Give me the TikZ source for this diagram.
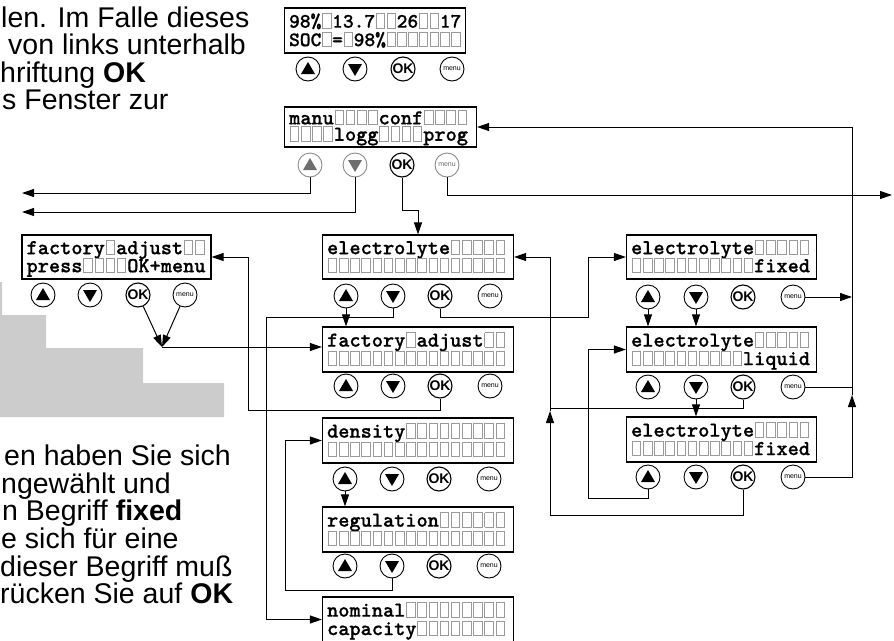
\documentclass[tikz,border=0pt]{standalone}
\usepackage{fontspec}
\setmainfont{Liberation Sans}
\newfontfamily\lcdfont[FakeBold=0.8]{lmmonolt10-bold.otf}
\usetikzlibrary{arrows.meta}
\definecolor{cellgrey}{HTML}{9A9A9A}
\definecolor{bggrey}{HTML}{CCCCCC}
\definecolor{btngrey}{HTML}{6E6E6E}
\definecolor{btnline}{HTML}{8A8A8A}
\newcommand\bx{\makebox[0.525em][c]{\textcolor{cellgrey}{\setlength\fboxrule{1pt}\setlength\fboxsep{0pt}\fbox{\rule{0pt}{13.5pt}\hspace{7.5pt}}}}}
\newcommand\bxs[1]{\foreach\k in {1,...,#1}{\bx}}
\tikzset{
  lcd/.style={draw, line width=1.2pt, inner sep=0pt},
  lcdtext/.style={anchor=base west, inner sep=0pt, text height=13pt, text depth=1.5pt},
  btn/.style={circle, draw, line width=0.9pt, minimum size=24pt, inner sep=0pt},
  bup/.style={btn, path picture={\fill[#1] ([shift={(-7,5)}]path picture bounding box.center) -- ++(14,0) -- ++(-7,-12) -- cycle;}},
  bup/.default=black,
  bdn/.style={btn, path picture={\fill[#1] ([shift={(-7,-5)}]path picture bounding box.center) -- ++(14,0) -- ++(-7,12) -- cycle;}},
  bdn/.default=black,
  bok/.style={btn, line width=1.1pt, font=\fontsize{14}{14}\selectfont\bfseries},
  bmenu/.style={btn, font=\fontsize{7}{7}\selectfont},
  conn/.style={line width=1pt},
  arr/.style={conn, -{Triangle[length=12pt,width=8pt]}},
  para/.style={anchor=base west, inner sep=0pt, font=\fontsize{28.5}{28.5}\selectfont}
}
\newcommand\lcdbox[8]{%
  \node[lcd, minimum width=#4pt, minimum height=#5pt] (#1) at (#2,#3) {};
  \node[lcdtext, font=\lcdfont\fontsize{#6}{#6}\selectfont] (#1a) at ([shift={(5,0.45*#5)}]#1.north west) {#7};
  \node[lcdtext, font=\lcdfont\fontsize{#6}{#6}\selectfont] (#1b) at ([shift={(5,0.86*#5)}]#1.north west) {#8};
}
\newcommand\btns[6]{%
  \node[bup] (#1-u) at (#3,#2) {};
  \node[bdn] (#1-d) at (#4,#2) {};
  \node[bok] (#1-k) at (#5,#2) {OK};
  \node[bmenu] (#1-m) at (#6,#2) {menu};
}
\begin{document}
\begin{tikzpicture}[x=1pt,y=-1pt]
\useasboundingbox (0,0) rectangle (894,640);
\fill[bggrey] (0,282) -- (2,282) -- (2,315) -- (46,315) -- (46,348) -- (143,348) -- (143,383) -- (224,383) -- (224,417) -- (0,417) -- cycle;

% paragraph fragments
\node[para] (t1) at (1,27) {len. Im Falle dieses};
\node[para] (t2) at (8,54.5) {von links unterhalb};
\node[para] (t3) at (0,82) {hriftung \textbf{OK}};
\node[para] (t4) at (2,109.5) {s Fenster zur};
\node[para] (b1) at (4,465) {en haben Sie sich};
\node[para] (b2) at (1,493) {ngewählt und};
\node[para] (b3) at (2,520) {n Begriff \textbf{fixed}};
\node[para] (b4) at (1,548) {e sich für eine};
\node[para] (b5) at (0,576) {dieser Begriff muß};
\node[para] (b6) at (0,603) {rücken Sie auf \textbf{OK}};

% displays
\lcdbox{L0}{375}{30.5}{181}{45}{20.5}{98\%\bx13.7\bx\bx26\bx\bx17}{SOC\bx=\bx98\%\bxs{7}}
\lcdbox{L1}{380.5}{127}{192}{40}{21.3}{manu\bxs{4}conf\bxs{4}}{\bxs{4}logg\bxs{4}prog}
\lcdbox{FL}{116.5}{257}{189}{44}{21.3}{factory\bx adjust\bx\bx}{press\bxs{4}OK+menu}
\lcdbox{E}{418}{257}{191}{44}{21.3}{electrolyte\bxs{5}}{\bxs{16}}
\lcdbox{FM}{418}{349.5}{191}{45}{21.3}{factory\bx adjust\bx\bx}{\bxs{16}}
\lcdbox{D}{418}{440.5}{191}{45}{21.3}{density\bxs{9}}{\bxs{16}}
\lcdbox{R}{418}{529.5}{191}{45}{21.3}{regulation\bxs{6}}{\bxs{16}}
\lcdbox{N}{418}{619.5}{191}{45}{21.3}{nominal\bxs{9}}{capacity\bxs{8}}
\lcdbox{F1}{721.5}{257}{190}{44}{21.3}{electrolyte\bxs{5}}{\bxs{11}fixed}
\lcdbox{LQ}{721.5}{349.5}{190}{45}{21.3}{electrolyte\bxs{5}}{\bxs{10}liquid}
\lcdbox{F2}{721.5}{439.5}{190}{45}{21.3}{electrolyte\bxs{5}}{\bxs{11}fixed}

% buttons
\btns{L0}{69}{308}{355}{403}{452}
\node[bup=btngrey, draw=btnline] (L1-u) at (310,165) {};
\node[bdn=btngrey, draw=btnline] (L1-d) at (355,165) {};
\node[bok] (L1-k) at (402,165) {OK};
\node[bmenu, draw=btnline, text=btngrey] (L1-m) at (447,165) {menu};
\btns{FL}{295}{43}{90}{138}{185}
\btns{E}{296}{346}{393}{440}{490}
\btns{FM}{386}{346}{393}{440}{490}
\btns{D}{479}{345}{392}{439}{489}
\btns{R}{566}{345}{392}{439}{489}
\btns{F1}{297}{648}{696}{743}{793}
\btns{LQ}{387}{648}{696}{743}{793}
\btns{F2}{477}{648}{696}{743}{793}

% free ends and bends
\coordinate (luend) at (22,193);
\coordinate (ldend) at (22,212);
\coordinate (rend) at (892,195);
\coordinate (c0) at (418,210);
\coordinate (up1) at (852,395);
\coordinate (c1) at (266,317);
\coordinate (c2) at (588,317);
\coordinate (c3) at (248,410);
\coordinate (j) at (162,347);
\coordinate (c4) at (285,590);
\coordinate (c5) at (550,408);
\coordinate (c6) at (550,515);
\coordinate (up2) at (550,411);
\coordinate (c7) at (588,498);

% connectors
\draw[arr] (L1-u.south) |- (luend);
\draw[arr] (L1-d.south) |- (ldend);
\draw[arr] (L1-k.south) |- (c0) -- (E.north);
\draw[arr] (L1-m.south) |- (rend);

\draw[arr] (F2-m.east) -| (up1);
\draw[arr] (up1) |- (L1.east);
\draw[conn] (LQ-m.east) -- (LQ-m.east -| up1);
\draw[arr] (F1-m.east) -- (F1-m.east -| up1);

\draw[arr] (E-u.south) -- (E-u.south |- FM.north);
\draw[arr] (E-d.south) |- (c1) |- (N.west);
\draw[arr] (E-k.south) |- (c2) |- (F1.west);
\draw[arr] (FM-k.south) |- (c3) |- (FL.east);
\draw[arr] (FL-k) -- (j);
\draw[arr] (FL-m) -- (j);
\draw[arr] (j) -- (j -| FM.west);
\draw[arr] (D-u.south) -- (D-u.south |- R.north);
\draw[arr] (R-d.south) |- (c4) |- (D.west);

\draw[arr] (F1-u.south) -- (F1-u.south |- LQ.north);
\draw[arr] (F1-d.south) -- (F1-d.south |- LQ.north);
\draw[arr] (LQ-d.south) -- (LQ-d.south |- F2.north);
\draw[conn] (LQ-k.south) |- (c5);
\draw[arr] (F2-k.south) |- (c6) -- (up2);
\draw[arr] (up2) |- (E.east);
\draw[arr] (F2-u.south) |- (c7) |- (LQ.west);
\end{tikzpicture}
\end{document}
